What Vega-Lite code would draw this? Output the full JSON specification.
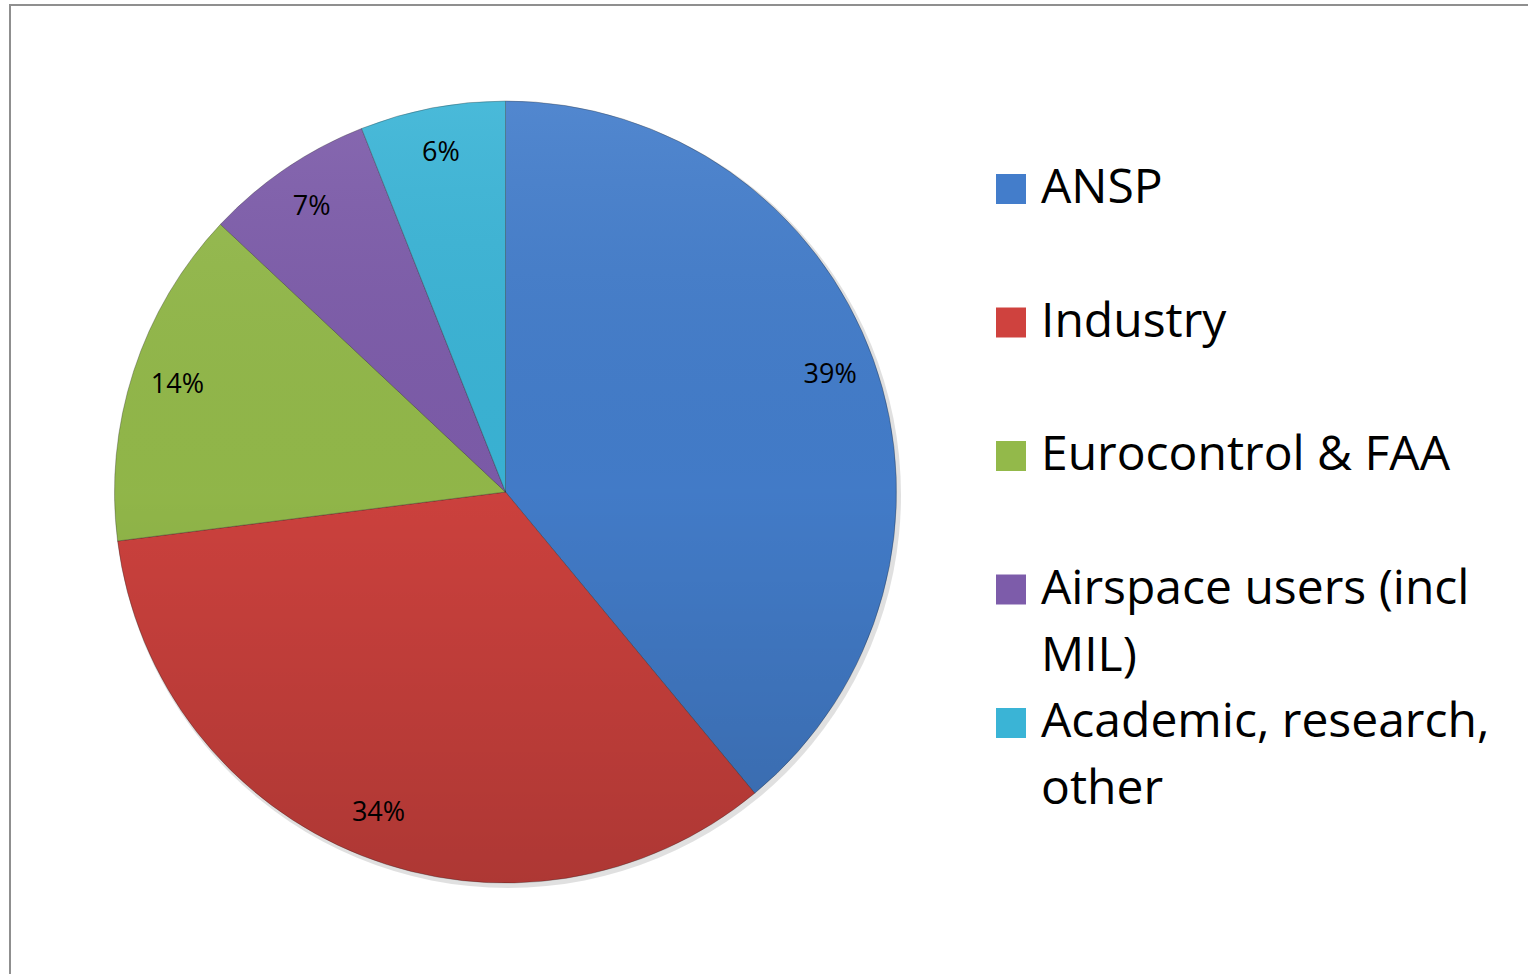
{
  "$schema": "https://vega.github.io/schema/vega-lite/v6.json",
  "width": 1522,
  "height": 972,
  "autosize": {"type": "none"},
  "padding": {"left": 10, "top": 5, "right": 0, "bottom": 0},
  "background": "white",
  "config": {"view": {"stroke": "#8f8f8f", "strokeWidth": 2}, "font": "Open Sans"},
  "data": {
    "values": [
      {"category": "ANSP", "share": 0.39, "rank": 1},
      {"category": "Industry", "share": 0.34, "rank": 2},
      {"category": "Eurocontrol & FAA", "share": 0.14, "rank": 3},
      {"category": "Airspace users (incl MIL)", "share": 0.07, "rank": 4},
      {"category": "Academic, research, other", "share": 0.06, "rank": 5}
    ]
  },
  "layer": [
    {
      "data": {"values": [{"shadow": 1}]},
      "mark": {"type": "arc", "outerRadius": 393, "theta": 0, "theta2": 6.2832, "fill": "#000000", "fillOpacity": 0.12},
      "encoding": {"x": {"value": 498}, "y": {"value": 490}}
    },
    {
      "mark": {"type": "arc", "outerRadius": 391, "stroke": "#1a1a1a", "strokeOpacity": 0.3, "strokeWidth": 1},
      "encoding": {
        "theta": {"field": "share", "type": "quantitative", "stack": true},
        "order": {"field": "rank", "type": "quantitative"},
        "color": {
          "field": "category",
          "type": "nominal",
          "scale": {
            "domain": ["ANSP", "Industry", "Eurocontrol & FAA", "Airspace users (incl MIL)", "Academic, research, other"],
            "range": ["#437dcb", "#cf423e", "#93b94a", "#7d5caa", "#3ab4d6"]
          },
          "legend": null
        },
        "x": {"value": 495.5},
        "y": {"value": 487}
      }
    },
    {
      "data": {"values": [{"overlay": 1}]},
      "mark": {
        "type": "arc",
        "outerRadius": 391,
        "theta": 0,
        "theta2": 6.2832,
        "fill": {
          "gradient": "linear",
          "x1": 0, "y1": 0, "x2": 0, "y2": 1,
          "stops": [
            {"offset": 0, "color": "rgba(255,255,255,0.08)"},
            {"offset": 0.5, "color": "rgba(0,0,0,0.02)"},
            {"offset": 1, "color": "rgba(0,0,0,0.16)"}
          ]
        }
      },
      "encoding": {"x": {"value": 495.5}, "y": {"value": 487}}
    },
    {
      "mark": {"type": "text", "radius": 345, "fontSize": 27, "color": "#000000"},
      "encoding": {
        "theta": {"field": "share", "type": "quantitative", "stack": true},
        "order": {"field": "rank", "type": "quantitative"},
        "text": {"field": "share", "type": "quantitative", "format": ".0%"},
        "x": {"value": 495.5},
        "y": {"value": 487}
      }
    },
    {
      "mark": {"type": "square", "size": 900, "filled": true, "opacity": 1},
      "encoding": {
        "y": {
          "field": "category",
          "type": "nominal",
          "scale": {
            "domain": ["ANSP", "Industry", "Eurocontrol & FAA", "Airspace users (incl MIL)", "Academic, research, other"],
            "range": [184, 718],
            "padding": 0
          },
          "axis": null
        },
        "x": {"value": 1001},
        "color": {"field": "category", "type": "nominal", "legend": null}
      }
    },
    {
      "mark": {"type": "text", "align": "left", "baseline": "middle", "fontSize": 48, "lineHeight": 67, "color": "#000000"},
      "encoding": {
        "y": {"field": "category", "type": "nominal", "axis": null},
        "x": {"value": 1031},
        "text": {
          "condition": [
            {"test": "datum.category === 'Airspace users (incl MIL)'", "value": ["Airspace users (incl", "MIL)"]},
            {"test": "datum.category === 'Academic, research, other'", "value": ["Academic, research,", "other"]}
          ],
          "field": "category",
          "type": "nominal"
        }
      }
    }
  ]
}
